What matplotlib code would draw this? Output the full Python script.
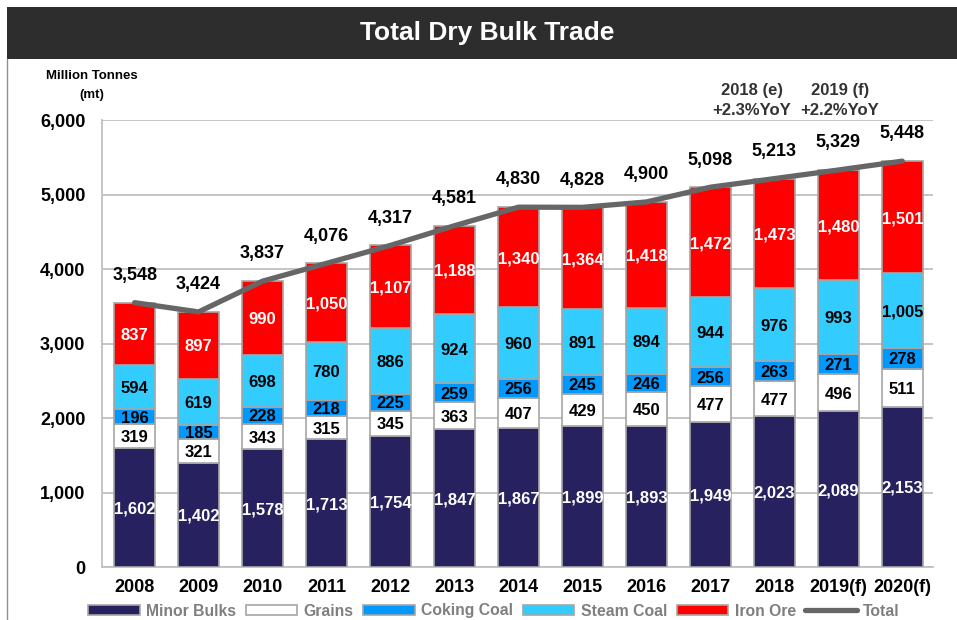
import matplotlib
matplotlib.use("Agg")
import matplotlib.pyplot as plt
from matplotlib.patches import Rectangle, Patch
from matplotlib.lines import Line2D
import numpy as np

plt.rcParams['font.family'] = ['Liberation Sans', 'DejaVu Sans']

years = ["2008", "2009", "2010", "2011", "2012", "2013", "2014", "2015",
         "2016", "2017", "2018", "2019(f)", "2020(f)"]
minor_bulks = [1602, 1402, 1578, 1713, 1754, 1847, 1867, 1899, 1893, 1949, 2023, 2089, 2153]
grains = [319, 321, 343, 315, 345, 363, 407, 429, 450, 477, 477, 496, 511]
coking_coal = [196, 185, 228, 218, 225, 259, 256, 245, 246, 256, 263, 271, 278]
steam_coal = [594, 619, 698, 780, 886, 924, 960, 891, 894, 944, 976, 993, 1005]
iron_ore = [837, 897, 990, 1050, 1107, 1188, 1340, 1364, 1418, 1472, 1473, 1480, 1501]
total = [3548, 3424, 3837, 4076, 4317, 4581, 4830, 4828, 4900, 5098, 5213, 5329, 5448]

series = [
    ("Minor Bulks", minor_bulks, "#27215f", "white", "bold"),
    ("Grains", grains, "#ffffff", "black", "bold"),
    ("Coking Coal", coking_coal, "#0099ff", "black", "bold"),
    ("Steam Coal", steam_coal, "#33ccff", "black", "bold"),
    ("Iron Ore", iron_ore, "#ff0000", "white", "bold"),
]

fig = plt.figure(figsize=(9.57, 6.2), dpi=100)
fig.patch.set_facecolor("white")

# Title bar
fig.patches.append(Rectangle((7/957, 1-59/620), 950/957, 52/620, transform=fig.transFigure,
                             facecolor="#2d2d2d", edgecolor="none", zorder=0))
fig.text(487/957, 1-33/620, "Total Dry Bulk Trade", color="white", fontsize=19,
         fontweight="bold", ha="center", va="center")
# left frame line
fig.add_artist(Line2D([7/957, 7/957], [0, 1-59/620], transform=fig.transFigure,
                      color="#909090", lw=1))

ax = fig.add_axes([102/957, 1-567/620, 831/957, 447/620])
x = np.arange(len(years))
bottom = np.zeros(len(years))
edge = "#a6a6a6"
for name, vals, col, tcol, tw in series:
    vals = np.array(vals)
    ax.bar(x, vals, width=0.64, bottom=bottom, color=col, edgecolor=edge,
           linewidth=1.2, label=name, zorder=3)
    for xi, b, v in zip(x, bottom, vals):
        ax.text(xi, b + v/2, f"{v:,}", ha="center", va="center_baseline",
                color=tcol, fontsize=12, fontweight=tw, zorder=5)
    bottom += vals

ax.plot(x, total, color="#666666", lw=3.8, solid_capstyle="round", zorder=4, label="Total")
for xi, t in zip(x, total):
    ax.annotate(f"{t:,}", (xi, t), xytext=(0, 21), textcoords="offset points",
                ha="center", va="center_baseline", fontsize=13, fontweight="bold",
                color="black", zorder=6)

ax.set_xlim(-0.51, 12.48)
ax.set_ylim(0, 6000)
ax.set_yticks(range(0, 6001, 1000))
ax.set_yticklabels([f"{v:,}" for v in range(0, 6001, 1000)], fontsize=13, fontweight="bold")
ax.set_xticks(x)
ax.set_xticklabels(years, fontsize=13, fontweight="bold")
ax.tick_params(axis="both", length=0)
ax.tick_params(axis="y", pad=12)
ax.tick_params(axis="x", pad=9)
ax.grid(axis="y", color="#c0c0c0", lw=1.3, zorder=0)
ax.set_axisbelow(True)
for s in ["top", "right"]:
    ax.spines[s].set_visible(False)
ax.spines["left"].set_color("#c0c0c0")
ax.spines["bottom"].set_color("#c0c0c0")
ax.spines["left"].set_linewidth(1.3)
ax.spines["bottom"].set_linewidth(1.3)

fig.text(92/957, 1-76/620, "Million Tonnes", fontsize=9.5, fontweight="bold",
         ha="center", va="center")
fig.text(92/957, 1-95/620, "(mt)", fontsize=9.5, fontweight="bold",
         ha="center", va="center")

fig.text(752/957, 1-91/620, "2018 (e)", fontsize=12, fontweight="bold",
         ha="center", va="center", color="#333333")
fig.text(752/957, 1-110/620, "+2.3%YoY", fontsize=12, fontweight="bold",
         ha="center", va="center", color="#333333")
fig.text(840/957, 1-91/620, "2019 (f)", fontsize=12, fontweight="bold",
         ha="center", va="center", color="#333333")
fig.text(840/957, 1-110/620, "+2.2%YoY", fontsize=12, fontweight="bold",
         ha="center", va="center", color="#333333")

handles = [Patch(facecolor=c, edgecolor=edge, linewidth=1.2, label=n) for n, _, c, _, _ in series]
handles.append(Line2D([0], [0], color="#666666", lw=3.8, solid_capstyle="round", label="Total"))
leg = fig.legend(handles=handles, loc="center", bbox_to_anchor=(494/957, 1-611/620),
                 ncol=6, frameon=False, handlelength=3.3, handleheight=0.55,
                 handletextpad=0.4, columnspacing=0.6, borderaxespad=0,
                 prop={"size": 11.3, "weight": "bold"})
for t in leg.get_texts():
    t.set_color("#7f7f7f")

fig.savefig("out.png", dpi=100, facecolor="white")
